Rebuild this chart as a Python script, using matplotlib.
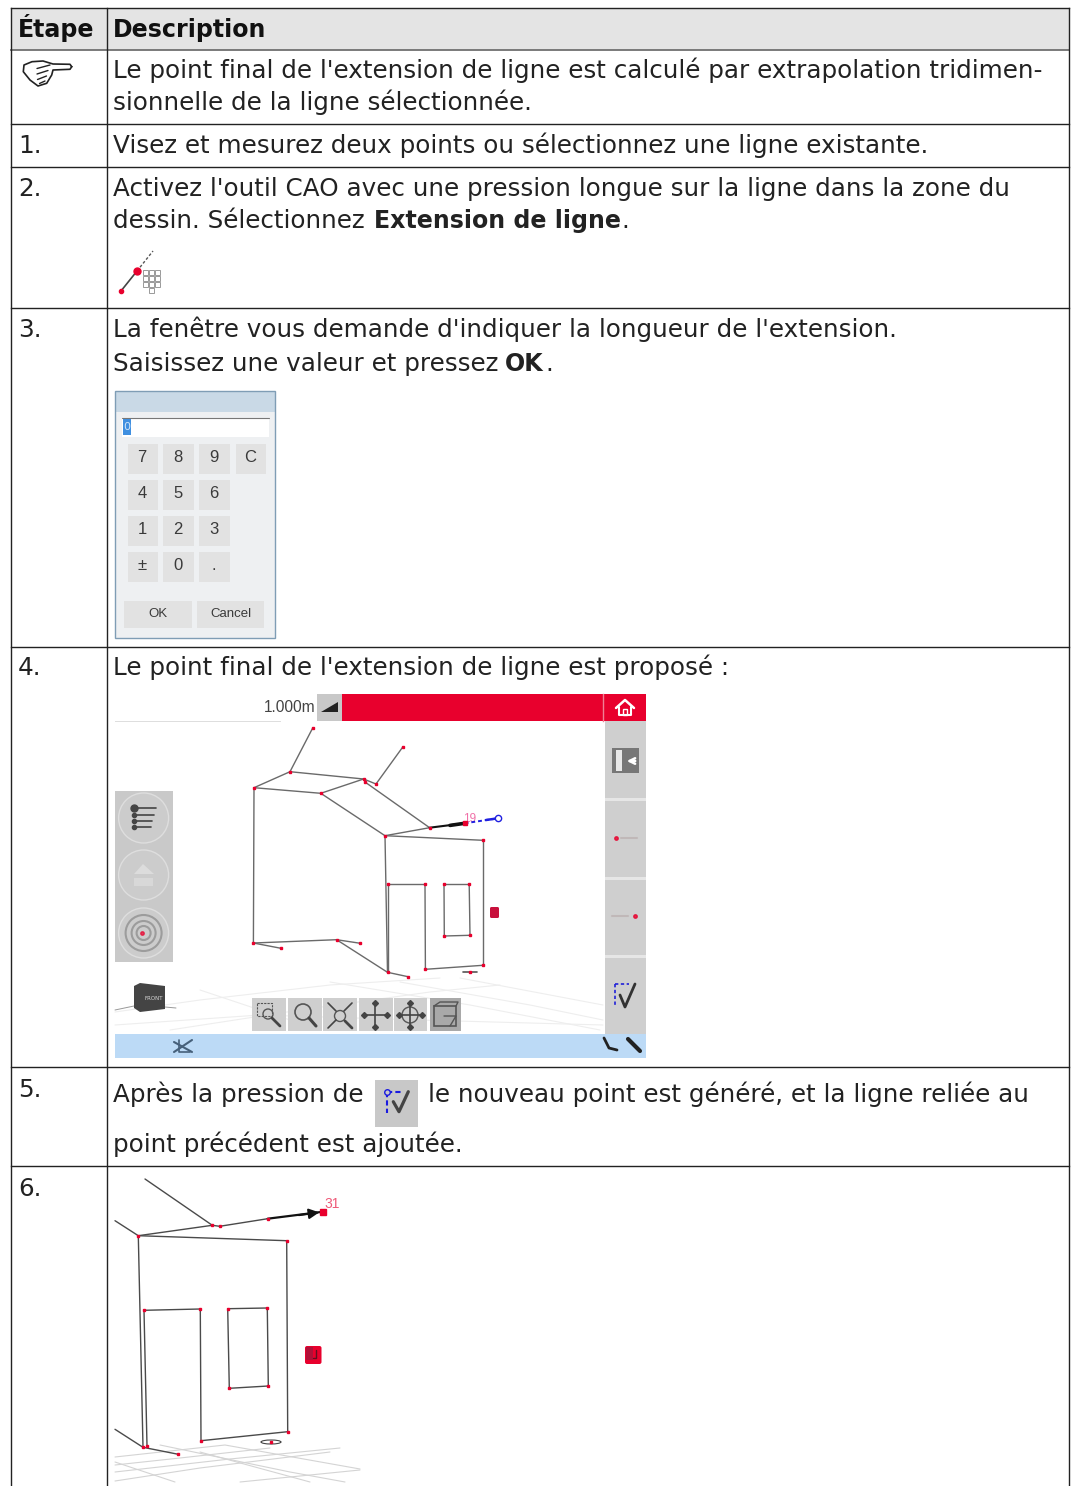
#plot.py
import matplotlib
matplotlib.use('Agg')
import matplotlib.pyplot as plt
from matplotlib.patches import Rectangle, Circle, Ellipse, Polygon, FancyBboxPatch

# table layout, in page pixels
row_lines = [8, 49.5, 124, 167, 308, 646.5, 1067, 1166]
col_lines = [11, 106.5, 1069]

header = ['Étape', 'Description']
step_labels = ['1.', '2.', '3.', '4.', '5.', '6.']
step_base = [153, 196, 337, 675, 1097, 1196]

# x, baseline, text
plain_lines = [
    (113, 78, "Le point final de l'extension de ligne est calculé par extrapolation tridimen-"),
    (113, 110, "sionnelle de la ligne sélectionnée."),
    (113, 153, "Visez et mesurez deux points ou sélectionnez une ligne existante."),
    (113, 196, "Activez l'outil CAO avec une pression longue sur la ligne dans la zone du"),
    (113, 228, "dessin. Sélectionnez"),
    (621, 228, "."),
    (113, 337, "La fenêtre vous demande d'indiquer la longueur de l'extension."),
    (113, 371, "Saisissez une valeur et pressez"),
    (545, 371, "."),
    (113, 675, "Le point final de l'extension de ligne est proposé :"),
    (113, 1102, "Après la pression de"),
    (428, 1102, "le nouveau point est généré, et la ligne reliée au"),
    (113, 1152, "point précédent est ajoutée."),
]
bold_lines = [(374, 228, "Extension de ligne"), (505, 371, "OK")]

# hand sign in the first row
hand_outline = [(71.7, 66.7), (70, 64.3), (53, 64), (43, 61), (32, 61.7), (24, 65), (23.3, 71.7), (30, 80),
                (38, 86), (46.7, 83.3), (51.7, 75), (53, 70), (70, 69.3), (71.7, 66.7)]
hand_curls = [[(37, 68.5), (50, 65)], [(37, 74), (48, 70.5)], [(37.5, 79.5), (46.5, 76)], [(39.5, 83.5), (45, 81)]]

# keypad
key_cols = [127.7, 163.3, 199.3, 235.7]
key_rows = [444, 480, 516, 552]
key_labels = [['7', '8', '9', 'C'], ['4', '5', '6', ''], ['1', '2', '3', ''], ['±', '0', '.', '']]

# screen capture of step 4
scr_pts = {
    'A': (312.7, 728), 'B': (290, 771.7), 'C': (254, 787.7), 'D': (363.6, 779), 'E': (320.8, 793.3),
    'F': (403, 746.7), 'G': (376, 784), 'H': (365.4, 782.3), 'I': (429.6, 827.7), 'J': (385, 835.7),
    'K': (483, 840.3), 'N': (253.4, 943), 'O': (281, 948.3), 'P': (336.6, 939.7), 'Q': (360.4, 943.3),
    'R': (387.5, 972.3), 'S': (408, 976.7), 'T': (425.4, 969.3), 'U': (483, 965.3),
    'V': (387.5, 884), 'W': (425, 884), 'X': (444, 884), 'Y': (469.2, 884), 'Z': (470, 935.3), 'a': (444.3, 936),
}
scr_edges = ['AB', 'BC', 'BD', 'DH', 'CE', 'ED', 'DG', 'GF', 'HI', 'EJ', 'JI', 'JK', 'KU', 'UT', 'TW', 'VW',
             'VR', 'JR', 'CN', 'NP', 'NO', 'PQ', 'PR', 'RS', 'XY', 'YZ', 'Za', 'aX']
scr_floor = [
    [(115, 1012), (200, 1000), (330, 985), (440, 978)],
    [(170, 1030), (300, 1010), (430, 992), (500, 985)],
    [(330, 982), (470, 1005), (600, 1030)],
    [(400, 982), (530, 1005), (603, 1020)],
    [(460, 978), (603, 1005)],
    [(200, 990), (320, 1030)],
    [(115, 1025), (260, 1015), (420, 1020), (603, 1025)],
]
tool_x = [(252, 286), (288, 322), (323, 357), (359, 393), (394, 427), (430, 461)]
side_seps = [798, 877, 955]
ring_y = [818, 875, 933]

# drawing of step 6
wall_pts = {
    'a': (145, 1179), 'b': (212.3, 1225.3), 'c': (219.7, 1226.3), 'd': (267.7, 1218.7), 'e': (323.3, 1211.7),
    'f': (138.3, 1235.7), 'g': (115, 1220.7), 'h': (286.7, 1240.7), 'i': (287.7, 1431.7), 'j': (201, 1440.7),
    'k': (200.3, 1309), 'l': (144, 1310.3), 'm': (147, 1446), 'n': (143, 1447.3), 'o': (178.3, 1454.3),
    'p': (115, 1429.3), 'q': (227.7, 1308.7), 'r': (267.3, 1308), 's': (268.3, 1386), 't': (229.3, 1388.3),
}
wall_edges = ['ab', 'fb', 'bc', 'cd', 'fg', 'fh', 'hi', 'ij', 'jk', 'kl', 'lm', 'fn', 'pn', 'no', 'qr', 'rs', 'st', 'tq']
wall_dots = 'bcdfhijklmnoqrst'
wall_floor = [
    [(115, 1457), (225, 1445), (360, 1469)],
    [(115, 1465), (180, 1458), (270, 1448)],
    [(115, 1472), (230, 1459), (340, 1448)],
    [(115, 1481), (200, 1468), (330, 1452)],
    [(160, 1445), (290, 1472), (345, 1482)],
    [(115, 1462), (175, 1482)],
    [(200, 1452), (310, 1482)],
    [(240, 1482), (360, 1470)],
]

red = '#e8002d'
dark = '#222222'
line_c = '#5a5a5a'
fs = 17.7
fs_bold = 17.1

fig = plt.figure(figsize=(10.72, 14.86), dpi=100)
ax = fig.add_axes([0, 0, 1, 1])
ax.set_xlim(0, 1072)
ax.set_ylim(1486, 0)
ax.axis('off')


def box(x0, y0, x1, y1, c, z=2, **kw):
    ax.add_patch(Rectangle((x0, y0), x1 - x0, y1 - y0, fc=c, ec='none', zorder=z, **kw))


def seg(pts, c=line_c, lw=1.0, z=3, **kw):
    ax.plot([p[0] for p in pts], [p[1] for p in pts], color=c, lw=lw, zorder=z, solid_capstyle='round', **kw)


# table
box(col_lines[0], row_lines[0], col_lines[2], row_lines[1], '#e4e4e4', z=1)
for i, y in enumerate(row_lines):
    ax.plot([col_lines[0], col_lines[2]], [y, y], color='#707070' if i == 1 else dark, lw=1.3 if i == 1 else 1.0, zorder=5)
for x in col_lines:
    ax.plot([x, x], [row_lines[0], 1486], color=dark, lw=1.0, zorder=5)

ax.text(18, 36.5, header[0], fontsize=fs_bold, fontweight='bold', color='#111111', va='baseline')
ax.text(113, 36.5, header[1], fontsize=fs_bold, fontweight='bold', color='#111111', va='baseline')
seg(hand_outline, c='#222222', lw=1.2)
for pts in hand_curls:
    seg(pts, c='#222222', lw=1.0)
for lab, y in zip(step_labels, step_base):
    ax.text(18, y, lab, fontsize=fs, color=dark, va='baseline')
for x, y, s in plain_lines:
    ax.text(x, y, s, fontsize=fs, color=dark, va='baseline')
for x, y, s in bold_lines:
    ax.text(x, y, s, fontsize=fs_bold, fontweight='bold', color=dark, va='baseline')

# step 2 icon
seg([(121, 291), (137, 271)], c='#444444', lw=1.2)
seg([(137, 271), (153, 251)], c='#555555', lw=1.0, linestyle=(0, (2, 1.5)))
ax.plot([121], [291], ls='none', marker='o', color=red, ms=3, zorder=4)
ax.plot([137], [271], ls='none', marker='o', color=red, ms=5, zorder=4)
for cx, cy in [(a, b) for b in (269.5, 275.5, 281.5) for a in (143, 149, 155)] + [(149, 287.5)]:
    ax.add_patch(Rectangle((cx, cy), 5, 5, fc='white', ec='#999999', lw=0.7, zorder=3))

# step 3 keypad
box(115, 391, 275, 638, '#eef0f2')
box(115, 391, 275, 412, '#c9d9e6')
ax.add_patch(Rectangle((115, 391), 160, 247, fc='none', ec='#7f9db5', lw=1.0, zorder=3))
box(122, 418, 269, 437, 'white', z=3)
seg([(122, 418), (269, 418)], c='#777777', lw=0.8)
box(123, 419, 131, 435, '#3f8fe0', z=4)
ax.text(127, 427, '0', fontsize=8, color='#d0e4f8', ha='center', va='center', zorder=5)
for r, y in enumerate(key_rows):
    for c, x in enumerate(key_cols):
        if key_labels[r][c] == '':
            continue
        box(x, y, x + 30.5, y + 30, '#e2e2e2', z=3)
        ax.text(x + 14.5, y + 13.5, key_labels[r][c], family='Liberation Sans', fontsize=12, color='#3a3a3a',
                ha='center', va='center', zorder=5)
box(124, 601, 192, 628, '#e2e2e2', z=3)
box(197, 601, 264, 628, '#e2e2e2', z=3)
ax.text(158, 614, 'OK', family='Liberation Sans', fontsize=9.5, color='#3a3a3a', ha='center', va='center', zorder=5)
ax.text(231, 614, 'Cancel', family='Liberation Sans', fontsize=9.5, color='#3a3a3a', ha='center', va='center', zorder=5)

# step 4 screen
for pts in scr_floor:
    seg(pts, c='#eeeeee', lw=0.8, z=1.5)
box(342, 694, 646, 721, red)
box(317, 694, 342, 721, '#c8c8c8')
ax.plot([603, 603], [694, 721], color='#f08095', lw=1, zorder=3)
ax.plot([115, 280], [721, 721], color='#dddddd', lw=0.7, zorder=2)
ax.add_patch(Polygon([(321, 712), (338, 702), (338, 712)], fc='#222222', ec='none', zorder=3))
ax.text(264, 707, '1.000m', family='Liberation Sans', fontsize=11.2, color='#444444', va='center', zorder=4)
seg([(616, 708), (625, 700), (634, 708)], c='white', lw=1.8, z=4)
seg([(619, 707), (619, 715), (631, 715), (631, 707)], c='white', lw=1.5, z=4)
ax.add_patch(Rectangle((623, 709), 4, 6, fc='none', ec='white', lw=1, zorder=4))

# right panel
box(605, 721, 646, 1034, '#cfcfcf')
for y in side_seps:
    box(605, y, 646, y + 2.5, '#e6e6e6', z=2.5)
box(612, 748, 639, 773, '#777777', z=3)
box(616, 750, 622, 771, '#e8e8e8', z=4)
ax.annotate('', xy=(624, 761), xytext=(638, 761), arrowprops=dict(arrowstyle='->', color='white', lw=1.8), zorder=5)
ax.plot([615.5], [838], ls='none', marker='o', color=red, ms=2.5, alpha=0.8, zorder=4)
seg([(621, 838), (637, 838)], c='#c0b8b8', lw=1.5, z=4)
ax.plot([635], [916], ls='none', marker='o', color=red, ms=2.5, alpha=0.8, zorder=4)
seg([(612, 916), (628, 916)], c='#c0b8b8', lw=1.5, z=4)
seg([(615, 984), (615, 1006)], c='#2020d8', lw=1.2, z=4, linestyle=(0, (2, 1.5)))
seg([(615, 984), (629, 984)], c='#2020d8', lw=1.2, z=4, linestyle=(0, (2, 1.5)))
seg([(620, 995), (625, 1007), (635, 984)], c='#333333', lw=2, z=5)

# left panel
box(115, 791, 173, 962, '#c9c9c9')
for y in ring_y:
    ax.add_patch(Circle((143.6, y), 25, fc='#cccccc', ec='#dedede', lw=1.0, zorder=3))
for y, x1, mk in [(808, 156, 5), (815, 154, 3), (821, 152, 3), (827, 151, 3)]:
    ax.plot([133.5], [y], ls='none', marker='o', color='#444444', ms=mk, zorder=4)
    seg([(137, y), (x1, y)], c='#444444', lw=1.2, z=4)
ax.add_patch(Polygon([(134, 874), (143, 864), (154, 874)], fc='#dcdcdc', ec='none', zorder=4))
box(134, 878, 153, 886, '#d8d8d8', z=4)
for r in (18, 12, 7):
    ax.add_patch(Circle((143.6, 933), r, fc='none', ec='#9c9c9c', lw=1.5, zorder=4))
ax.plot([142], [933], ls='none', marker='o', color=red, ms=2.5, alpha=0.7, zorder=5)

# cube
ax.add_patch(Polygon([(134, 986), (140, 983), (165, 986), (165, 1009), (140, 1012), (134, 1008)], fc='#444444', ec='none', zorder=3))
seg([(115, 1010), (134, 1006)], c='#999999', lw=0.7, z=2)
seg([(165, 1007), (176, 1008)], c='#999999', lw=0.7, z=2)
ax.text(154, 998, 'FRONT', fontsize=4, color='#d8d8d8', ha='center', va='center', zorder=4)

# toolbar
for i, (x0, x1) in enumerate(tool_x):
    box(x0, 998, x1, 1031, '#a9a9a9' if i == 5 else '#cfcfcf')
ax.add_patch(Rectangle((257, 1003), 15, 13, fc='none', ec='#555555', lw=0.8, ls=(0, (2, 1)), zorder=4))
ax.add_patch(Circle((268, 1014), 5, fc='none', ec='#555555', lw=1, zorder=4))
seg([(272, 1018), (280, 1026)], c='#444444', lw=2, z=4)
ax.add_patch(Circle((303, 1012), 8, fc='none', ec='#555555', lw=1.2, zorder=4))
seg([(309, 1018), (316, 1026)], c='#444444', lw=2.2, z=4)
ax.add_patch(Circle((340, 1016), 5.5, fc='none', ec='#555555', lw=1, zorder=4))
seg([(328, 1003), (336, 1011)], c='#444444', lw=1.2, z=4)
seg([(352, 1003), (344, 1011)], c='#444444', lw=1.2, z=4)
seg([(328, 1028), (336, 1020)], c='#444444', lw=1.2, z=4)
seg([(352, 1028), (345, 1021)], c='#444444', lw=2, z=4)
seg([(375, 1003), (375, 1027)], c='#444444', lw=1.2, z=4)
seg([(364, 1015), (387, 1015)], c='#444444', lw=1.2, z=4)
ax.plot([375, 375, 364, 387], [1003, 1027, 1015, 1015], ls='none', marker='D', color='#444444', ms=3, zorder=4)
ax.add_patch(Circle((410, 1015), 8, fc='none', ec='#555555', lw=1, zorder=4))
seg([(410, 1003), (410, 1027)], c='#444444', lw=1.2, z=4)
seg([(399, 1015), (422, 1015)], c='#444444', lw=1.2, z=4)
ax.plot([410, 410, 399, 422], [1003, 1027, 1015, 1015], ls='none', marker='D', color='#444444', ms=3, zorder=4)
ax.add_patch(Rectangle((434, 1006), 22, 20, fc='none', ec='#555555', lw=1.2, zorder=4))
seg([(434, 1006), (440, 1002), (458, 1002), (456, 1006)], c='#555555', lw=1, z=4)
seg([(444, 1016), (456, 1016), (450, 1026)], c='#555555', lw=1, z=4)

# blue status bar
box(115, 1034, 646, 1058, '#bcdaf6')
seg([(174, 1042), (192, 1052)], c='#46607a', lw=1.5, z=4)
seg([(174, 1052), (192, 1040)], c='#46607a', lw=1.5, z=4)
seg([(179, 1040), (179, 1052), (190, 1052)], c='#46607a', lw=1.2, z=4)
seg([(604, 1038), (609, 1048), (617, 1050)], c='#222222', lw=2, z=4)
seg([(628, 1039), (640, 1051)], c='#222222', lw=3, z=4)

# model in the screen
for e in scr_edges:
    seg([scr_pts[e[0]], scr_pts[e[1]]], c='#6a6a6a', lw=1.0)
seg([scr_pts['I'], (464.6, 823.3)], c='#111111', lw=1.5, z=4)
seg([(450, 825.4), (464.6, 823.3)], c='#111111', lw=2.6, z=4)
seg([(464.6, 823.3), (498, 818.3)], c='#2020e0', lw=1.4, z=4, linestyle=(0, (2, 1.5)))
seg([(486, 820), (498, 818.3)], c='#2020e0', lw=1.8, z=4)
ax.plot([498], [818.3], ls='none', marker='o', mfc='white', mec='#2020e0', ms=4.5, zorder=5)
ax.plot([464.6], [823.3], ls='none', marker='s', color=red, ms=3, zorder=5)
ax.plot([p[0] for k, p in scr_pts.items()], [p[1] for k, p in scr_pts.items()], ls='none', marker='s',
        color=red, ms=1.6, zorder=5)
ax.text(470, 822, '19', family='Liberation Sans', fontsize=8.5, color='#f070a8', ha='center', va='baseline', zorder=3.5)
ax.add_patch(FancyBboxPatch((490, 907), 9, 11, boxstyle='round,pad=0,rounding_size=1.5', fc='#c8103c', ec='none', zorder=4))
seg([(463, 971.5), (477, 971.5)], c='#555555', lw=1.2, z=4)
ax.plot([470], [971.5], ls='none', marker='s', color=red, ms=1.6, zorder=5)

# step 5 icon
box(375, 1080, 418, 1127, '#c8c8c8')
seg([(387.3, 1092), (387.3, 1113)], c='#1a1ae0', lw=1.5, z=4, linestyle=(0, (2.5, 1.5)))
seg([(387.3, 1092), (402, 1092)], c='#1a1ae0', lw=1.5, z=4, linestyle=(0, (2.5, 1.5)))
ax.plot([387.3], [1092], ls='none', marker='o', mfc='#c8c8c8', mec='#1a1ae0', ms=4, zorder=5)
seg([(393.3, 1101.7), (399, 1111.7), (408.3, 1091.7)], c='#444444', lw=2.3, z=4)

# step 6 drawing
for pts in wall_floor:
    seg(pts, c='#d4d4d4', lw=0.8, z=1.5)
for e in wall_edges:
    seg([wall_pts[e[0]], wall_pts[e[1]]], c='#4a4a4a', lw=1.0)
seg([wall_pts['d'], wall_pts['e']], c='#111111', lw=1.6, z=4)
ax.annotate('', xy=(322, 1212), xytext=(296, 1215.5), zorder=4,
            arrowprops=dict(arrowstyle='-|>', color='#111111', lw=1.5, mutation_scale=15))
ax.plot([wall_pts[k][0] for k in wall_dots], [wall_pts[k][1] for k in wall_dots], ls='none', marker='s',
        color=red, ms=2.0, zorder=5)
ax.plot([323.3], [1211.7], ls='none', marker='s', color=red, ms=5, zorder=6)
ax.text(332, 1208, '31', family='Liberation Sans', fontsize=10, color='#ee5a78', ha='center', va='baseline', zorder=5)
ax.add_patch(FancyBboxPatch((305, 1346), 16.5, 18, boxstyle='round,pad=0,rounding_size=2', fc=red, ec='none', zorder=4))
box(306, 1347, 313, 1360, '#b01038', z=5)
seg([(316, 1350), (316, 1358), (313, 1358)], c='#601020', lw=1, z=6)
ax.add_patch(Ellipse((271, 1442), 20, 4, fc='none', ec='#444444', lw=0.8, zorder=4))
ax.plot([271], [1442], ls='none', marker='s', color=red, ms=2, zorder=5)

fig.savefig('out.png', dpi=100, facecolor='white')
